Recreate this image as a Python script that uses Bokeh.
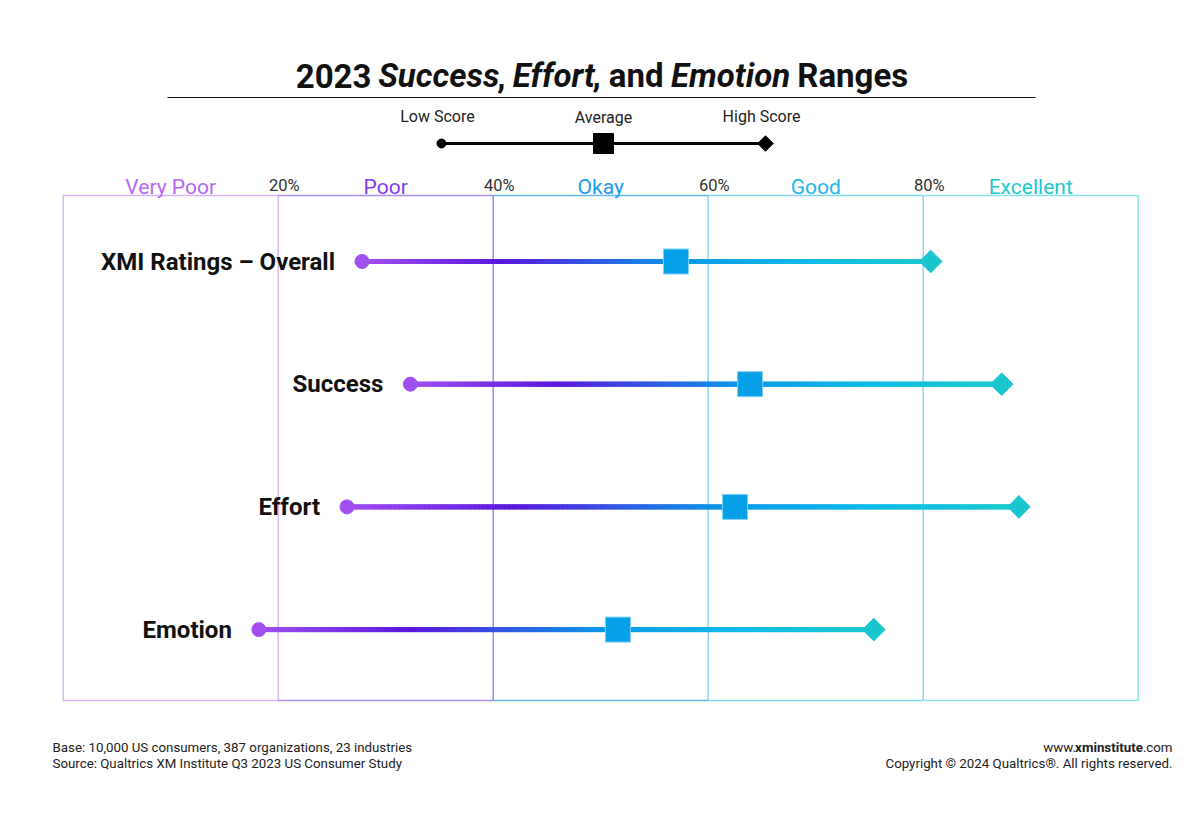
import numpy as np
from bokeh.plotting import figure
from bokeh.models import Range1d
from bokeh.core.properties import value
from bokeh.embed import file_html
from bokeh.resources import INLINE

# ---------------- data ----------------
categories = ["XMI Ratings – Overall", "Success", "Effort", "Emotion"]
low_scores = [27.8, 32.3, 26.4, 18.2]
avg_scores = [57.0, 63.9, 62.5, 51.6]
high_scores = [80.7, 87.3, 88.9, 75.4]
zone_names = ["Very Poor", "Poor", "Okay", "Good", "Excellent"]
zone_edges = [0, 20, 40, 60, 80, 100]
tick_values = [20, 40, 60, 80]
tick_labels = ["20%", "40%", "60%", "80%"]

# ---------------- styles ----------------
zone_label_colors = ["#b866f4", "#7f3cf0", "#1b9bf0", "#22b7ee", "#20c9cc"]
zone_line_colors = ["#d9b5fc", "#a98ef7", "#64b6f3", "#86d6f4", "#8ee3ea"]
edge_colors = ["#dab6fc", "#dab6fc", "#a08af3", "#8ad8f2", "#8ad8f2", "#8ee5ea"]
grad_stops_t = [0.0, 0.25, 0.42, 0.56, 0.78, 1.0]
grad_stops_c = ["#a450f2", "#5a16dd", "#2e5ee3", "#0a97e7", "#0bbbe9", "#1bc9cc"]
FONT = "Roboto"

W, H = 1184, 800
PX = 10.75            # pixels per percentage point
ORIGIN = 62.7         # canvas x of 0 %


def px(cx):
    return (cx - ORIGIN) / PX


def py(cy):
    return cy


p = figure(width=W, height=H,
           x_range=Range1d(px(0), px(W)), y_range=Range1d(H, 0),
           output_backend="svg", toolbar_location=None, min_border=0,
           x_axis_location=None, y_axis_location=None)
p.grid.visible = False
p.outline_line_color = None
p.background_fill_color = "white"
p.border_fill_color = "white"


def hex2rgb(h):
    h = h.lstrip("#")
    return np.array([int(h[i:i + 2], 16) for i in (0, 2, 4)], dtype=float)


stops_rgb = np.array([hex2rgb(c) for c in grad_stops_c])


def grad_color(t):
    r = np.interp(t, grad_stops_t, stops_rgb[:, 0])
    g = np.interp(t, grad_stops_t, stops_rgb[:, 1])
    b = np.interp(t, grad_stops_t, stops_rgb[:, 2])
    return "#%02x%02x%02x" % (int(round(r)), int(round(g)), int(round(b)))


# approximate Roboto Bold advance widths (em) used to chain the title pieces
ADV = {'2': .562, '0': .562, '3': .562, ' ': .25, 'S': .603, 'u': .553, 'c': .523,
       'e': .530, 's': .515, ',': .219, 'E': .566, 'f': .349, 'o': .569, 'r': .349,
       't': .334, 'a': .543, 'n': .556, 'd': .562, 'm': .877, 'i': .254, 'R': .627,
       'g': .562}


def text_w(s, fs, italic=False):
    w = sum(ADV.get(ch, .55) for ch in s) * fs
    return w * 0.96 if italic else w


# ---------------- title ----------------
TFS = 33
title_y = py(75)
title_parts = [("2023 ", False), ("Success", True), (", ", False),
               ("Effort", True), (", and ", False),
               ("Emotion", True), (" Ranges", False)]
total = sum(text_w(t, TFS, it) for t, it in title_parts)
xcur = 601 - total / 2
for txt, it in title_parts:
    lead = len(txt) - len(txt.lstrip(" "))
    xs = xcur + text_w(" " * lead, TFS)
    p.text(x=[px(xs)], y=[title_y], text=[txt.strip(" ")], text_font=value(FONT),
           text_font_style="bold italic" if it else "bold", text_font_size=f"{TFS}px",
           text_color="#111111", text_align="left", text_baseline="middle")
    xcur += text_w(txt, TFS, it)
p.segment(x0=[px(167)], x1=[px(1035)], y0=[py(97)], y1=[py(97)],
          line_color="#111111", line_width=1.2)

# ---------------- legend ----------------
leg_y = py(143)
p.segment(x0=[px(441)], x1=[px(765)], y0=[leg_y], y1=[leg_y], line_color="black", line_width=3)
p.scatter(x=[px(441)], y=[leg_y], marker="circle", size=9, color="black")
p.scatter(x=[px(603)], y=[leg_y], marker="square", size=20, color="black")
p.scatter(x=[px(765)], y=[leg_y], marker="square", size=11, angle=np.pi / 4, color="black")
for txt, xc, yc in [("Low Score", 437, 116), ("Average", 603, 117), ("High Score", 761, 116)]:
    p.text(x=[px(xc)], y=[py(yc)], text=[txt], text_font=value(FONT), text_font_size="16px",
           text_color="#222222", text_align="center", text_baseline="middle")

# ---------------- zone box ----------------
box_top, box_bot = py(195), py(700)
for e, c in zip(zone_edges, edge_colors):
    p.segment(x0=[e], x1=[e], y0=[box_top], y1=[box_bot], line_color=c, line_width=1.5)
for i in range(len(zone_names)):
    for yy in (box_top, box_bot):
        p.segment(x0=[zone_edges[i]], x1=[zone_edges[i + 1]], y0=[yy], y1=[yy],
                  line_color=zone_line_colors[i], line_width=1.5)
    p.text(x=[(zone_edges[i] + zone_edges[i + 1]) / 2], y=[py(186)], text=[zone_names[i]],
           text_font=value(FONT), text_font_size="21px", text_color=zone_label_colors[i],
           text_align="center", text_baseline="middle")
p.text(x=[t + 6 / PX for t in tick_values], y=[py(185)] * len(tick_values), text=tick_labels,
       text_font=value(FONT), text_font_size="16.5px", text_color="#333333",
       text_align="center", text_baseline="middle")

# ---------------- ranges ----------------
row_y = [py(261 + i * 122.7) for i in range(len(categories))]
N = 160
for lo, av, hi, yy in zip(low_scores, avg_scores, high_scores, row_y):
    t = np.linspace(0, 1, N + 1)
    xs = lo + t * (hi - lo)
    tm = (t[:-1] + t[1:]) / 2
    cols = [grad_color(v) for v in tm]
    p.segment(x0=xs[:-1], x1=xs[1:], y0=[yy] * N, y1=[yy] * N, line_color=cols,
              line_width=5, line_cap="square")

p.scatter(x=low_scores, y=row_y, marker="circle", size=14, color="#a24ff2")
p.scatter(x=avg_scores, y=row_y, marker="square", size=25, fill_color="#06a0e9",
          line_color="#7fd0f5", line_width=1)
p.scatter(x=high_scores, y=row_y, marker="square", size=16, angle=np.pi / 4, color="#19c6cf")

p.text(x=[lo - 27 / PX for lo in low_scores], y=row_y, text=categories,
       text_font=value(FONT), text_font_style="bold", text_font_size="24px",
       text_color="#111111", text_align="right", text_baseline="middle")

# ---------------- footer ----------------
FFS = 13.3
for txt, yy in [("Base: 10,000 US consumers, 387 organizations, 23 industries", 747),
                ("Source: Qualtrics XM Institute Q3 2023 US Consumer Study", 763)]:
    p.text(x=[px(52)], y=[py(yy)], text=[txt], text_font=value(FONT), text_font_size=f"{FFS}px",
           text_color="#222222", text_align="left", text_baseline="middle")
p.text(x=[px(1172)], y=[py(763)], text=["Copyright © 2024 Qualtrics®. All rights reserved."],
       text_font=value(FONT), text_font_size=f"{FFS}px", text_color="#222222",
       text_align="right", text_baseline="middle")
com_w = 2.23 * FFS
xmi_w = 5.03 * FFS
for txt, style, xr in [("www.", "normal", 1172 - com_w - xmi_w),
                       ("xminstitute", "bold", 1172 - com_w),
                       (".com", "normal", 1172)]:
    p.text(x=[px(xr)], y=[py(747)], text=[txt], text_font=value(FONT), text_font_style=style,
           text_font_size=f"{FFS}px", text_color="#222222", text_align="right",
           text_baseline="middle")

open("out.html", "w").write(file_html(p, INLINE))
